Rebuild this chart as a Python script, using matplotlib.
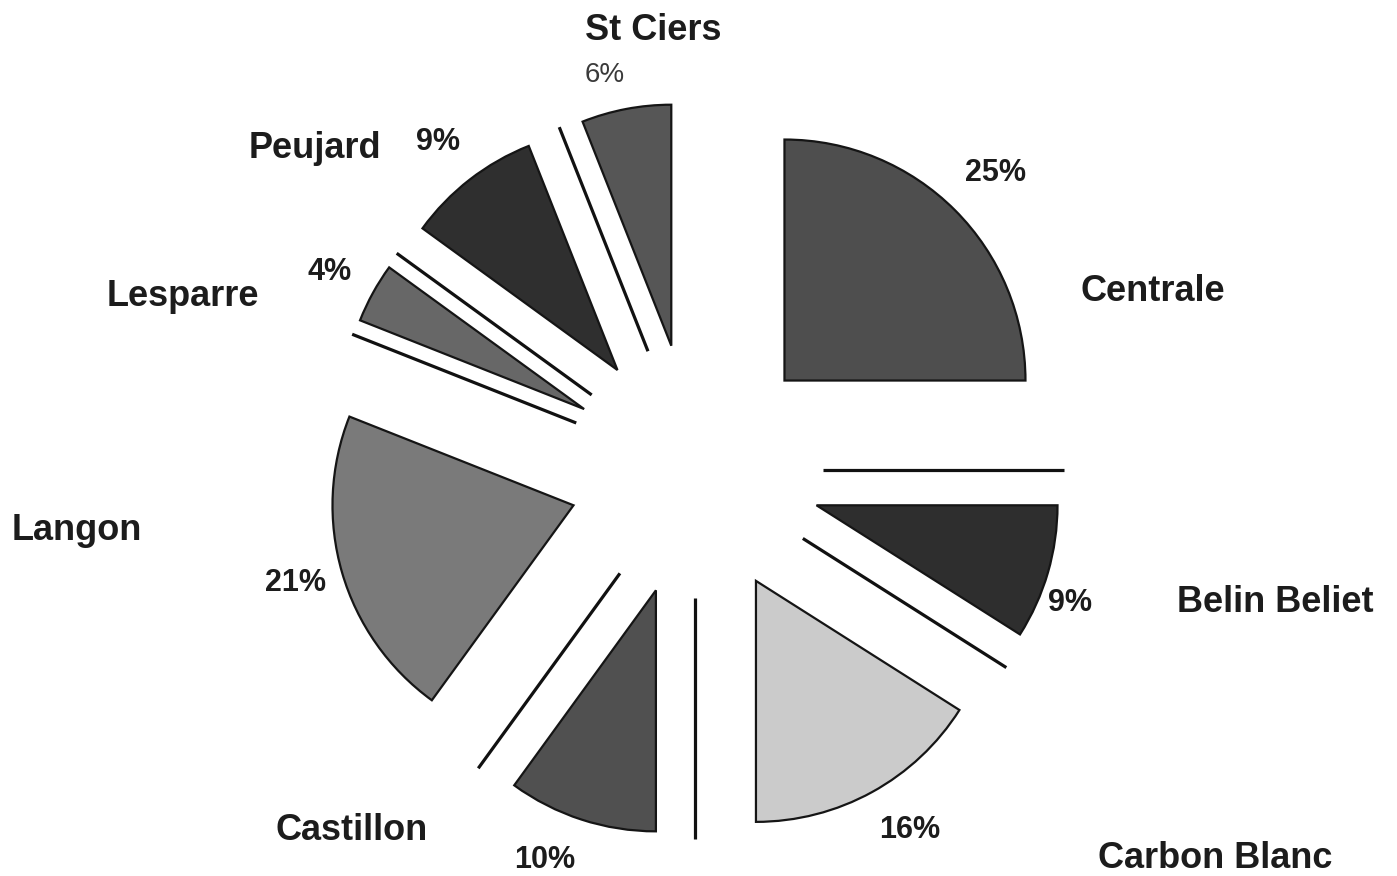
import numpy as np
import matplotlib
matplotlib.use("Agg")
import matplotlib.pyplot as plt

# shares of each site, clockwise from 12 o'clock
sites = ["Centrale", "Belin Beliet", "Carbon Blanc", "Castillon",
         "Langon", "Lesparre", "Peujard", "St Ciers"]
shares = [25, 9, 16, 10, 21, 4, 9, 6]
pct_labels = ["25%", "9%", "16%", "10%", "21%", "4%", "9%", "6%"]

# layout (pixel positions of label centres in the 1397x876 picture)
W, H = 1397, 876
name_pos = [(1153, 292), (1275, 603), (1215, 858), (352, 830),
            (77, 530), (183, 297), (315, 148), (653, 30)]
pct_pos = [(995, 173), (1070, 603), (910, 830), (545, 860),
           (295, 583), (330, 272), (438, 142), (605, 75)]
colors = ["#4e4e4e", "#2e2e2e", "#cbcbcb", "#505050",
          "#7a7a7a", "#676767", "#2f2f2f", "#565656"]

cx, cy, R = 695, 470, 241   # pie centre and radius in pixels
explode = 0.525

plt.rcParams["font.family"] = ["Liberation Sans", "DejaVu Sans"]

fig = plt.figure(figsize=(W / 100, H / 100), dpi=100)
ax = fig.add_axes([0, 0, 1, 1])

ax.pie(shares, explode=[explode] * len(shares), startangle=90,
       counterclock=False, radius=1.0,
       colors=colors,
       wedgeprops=dict(edgecolor="#151515", linewidth=1.6))

# thin separator strokes along the wedge boundaries
cum = np.cumsum(shares)[:-1] / sum(shares)
for frac in cum:
    th = np.deg2rad(90 - 360 * frac)
    r = np.array([explode + 0.005, explode + 1.005])
    ax.plot(r * np.cos(th), r * np.sin(th), color="#111111", lw=2.3,
            solid_capstyle="butt")

ax.set_xlim(-cx / R, (W - cx) / R)
ax.set_ylim((cy - H) / R, cy / R)
ax.set_aspect("equal")
ax.axis("off")

for name, (px, py) in zip(sites, name_pos):
    ax.text(px / W, 1 - py / H, name, transform=ax.transAxes,
            ha="center", va="center", fontsize=26, fontweight="bold",
            color="#1c1c1c")

for i, (lab, (px, py)) in enumerate(zip(pct_labels, pct_pos)):
    last = i == len(pct_labels) - 1
    ax.text(px / W, 1 - py / H, lab, transform=ax.transAxes,
            ha="center", va="center", fontsize=20 if last else 22,
            fontweight="normal" if last else "bold",
            color="#3a3a3a" if last else "#1c1c1c")

fig.savefig("out.png", dpi=100)
